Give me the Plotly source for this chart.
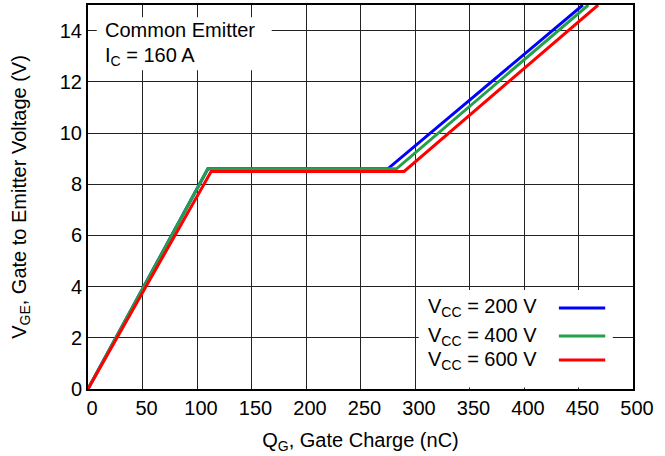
import plotly.graph_objects as go

# Data
q_200 = [0, 110, 275, 454]
v_200 = [0, 8.6, 8.6, 15]
q_400 = [0, 110, 283, 459]
v_400 = [0, 8.6, 8.6, 15]
q_600 = [0, 113, 290, 468]
v_600 = [0, 8.5, 8.5, 15]

series_names = ["V<sub>CC</sub> = 200 V", "V<sub>CC</sub> = 400 V", "V<sub>CC</sub> = 600 V"]
series_colors = ["#0000ff", "#22a04a", "#ff0000"]
x_ticks = [0, 50, 100, 150, 200, 250, 300, 350, 400, 450, 500]
y_ticks = [0, 2, 4, 6, 8, 10, 12, 14]

FONT = "Liberation Sans, Arial, sans-serif"
FS = 20

fig = go.Figure()
for q, v, c in zip([q_200, q_400, q_600], [v_200, v_400, v_600], series_colors):
    fig.add_trace(go.Scatter(x=q, y=v, mode="lines", line=dict(color=c, width=3),
                             showlegend=False, hoverinfo="skip"))

# Custom legend (text left, line sample right) in paper coords
fig.add_shape(type="rect", xref="paper", yref="paper", x0=0.607, x1=0.963, y0=0.004, y1=0.258,
              fillcolor="white", line=dict(width=0), layer="above")
leg_y = [0.211, 0.138, 0.0755]
for name, c, yy in zip(series_names, series_colors, leg_y):
    fig.add_annotation(xref="paper", yref="paper", x=0.62, y=yy, text=name, showarrow=False,
                       xanchor="left", yanchor="middle", font=dict(family=FONT, size=FS, color="black"))
    fig.add_shape(type="line", xref="paper", yref="paper", x0=0.864, x1=0.949, y0=yy, y1=yy,
                  line=dict(color=c, width=3), layer="above")

# Top-left note
fig.add_shape(type="rect", xref="paper", yref="paper", x0=0.016, x1=0.337, y0=0.83, y1=0.968,
              fillcolor="white", line=dict(width=0), layer="above")
fig.add_annotation(xref="paper", yref="paper", x=0.028, y=0.935, xanchor="left", yanchor="middle",
                   text="Common Emitter", showarrow=False,
                   font=dict(family=FONT, size=FS, color="black"))
fig.add_annotation(xref="paper", yref="paper", x=0.028, y=0.867, xanchor="left", yanchor="middle",
                   text="I<sub>C</sub> = 160 A", showarrow=False,
                   font=dict(family=FONT, size=FS, color="black"))

fig.update_layout(
    width=665, height=456,
    margin=dict(l=88, r=32, t=5, b=67),
    plot_bgcolor="white", paper_bgcolor="white",
    font=dict(family=FONT, size=FS, color="black"),
)
fig.update_xaxes(range=[0, 500], tickvals=x_ticks, showgrid=True, gridcolor="#222222", gridwidth=1,
                 showline=True, linecolor="black", linewidth=2, mirror=True, ticks="", zeroline=False,
                 automargin=False, ticklabelshift=4,
                 title=dict(text="Q<sub>G</sub>, Gate Charge (nC)", standoff=15, font=dict(size=FS)),
                 tickfont=dict(size=FS))
fig.update_yaxes(range=[0, 15], tickvals=y_ticks, showgrid=True, gridcolor="#222222", gridwidth=1,
                 showline=True, linecolor="black", linewidth=2, mirror=True, ticks="", zeroline=False,
                 automargin=False,
                 title=dict(text="V<sub>GE</sub>, Gate to Emitter Voltage (V)", standoff=28, font=dict(size=FS)),
                 tickfont=dict(size=FS))

fig.write_html("out.html", config={"displayModeBar": False},
               post_script="document.body.style.margin='0';")
